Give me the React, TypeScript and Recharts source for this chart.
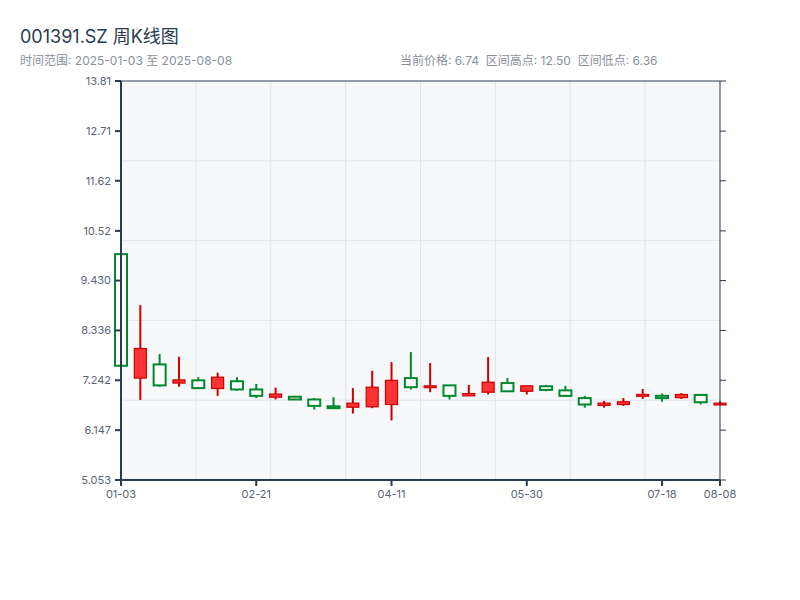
import React from "react";
import {
  ComposedChart,
  Bar,
  XAxis,
  YAxis,
  CartesianGrid,
} from "recharts";

const dates = [
  "01-03", "01-10", "01-17", "01-24", "01-31", "02-07", "02-14", "02-21",
  "02-28", "03-07", "03-14", "03-21", "03-28", "04-04", "04-11", "04-18",
  "04-25", "05-02", "05-09", "05-16", "05-23", "05-30", "06-06", "06-13",
  "06-20", "06-27", "07-04", "07-11", "07-18", "07-25", "08-01", "08-08",
];

const open = [
  10.01, 7.29, 7.59, 7.18, 7.24, 7.06, 7.22, 7.04, 6.87, 6.88, 6.82, 6.67,
  6.65, 6.66, 6.71, 7.29, 7.08, 7.13, 6.90, 6.98, 7.18, 7.00, 7.11, 7.02,
  6.85, 6.69, 6.71, 6.89, 6.90, 6.86, 6.92, 6.70,
];
const close = [
  7.56, 7.94, 7.13, 7.25, 7.07, 7.31, 7.04, 6.90, 6.94, 6.82, 6.68, 6.63,
  6.74, 7.09, 7.24, 7.09, 7.12, 6.90, 6.95, 7.20, 7.00, 7.12, 7.03, 6.90,
  6.71, 6.74, 6.77, 6.93, 6.85, 6.93, 6.76, 6.74,
];
const high = [
  10.01, 8.89, 7.82, 7.76, 7.31, 7.41, 7.31, 7.16, 7.08, 6.90, 6.85, 6.87,
  7.07, 7.45, 7.64, 7.86, 7.62, 7.13, 7.14, 7.75, 7.29, 7.12, 7.14, 7.12,
  6.90, 6.79, 6.85, 7.05, 6.95, 6.96, 6.92, 6.78,
];
const low = [
  7.56, 6.81, 7.10, 7.10, 7.07, 6.90, 7.01, 6.85, 6.82, 6.82, 6.60, 6.62,
  6.51, 6.63, 6.36, 7.04, 6.98, 6.82, 6.90, 6.93, 7.00, 6.93, 7.00, 6.88,
  6.64, 6.64, 6.68, 6.83, 6.77, 6.83, 6.71, 6.69,
];

const yTicks = [5.053, 6.147, 7.242, 8.336, 9.43, 10.52, 11.62, 12.71, 13.81];
const yTickLabels = ["5.053", "6.147", "7.242", "8.336", "9.430", "10.52", "11.62", "12.71", "13.81"];
const xTickIdx = [0, 7, 14, 21, 28, 31];

const data = dates.map((d, i) => ({
  idx: i,
  date: d,
  open: open[i],
  close: close[i],
  high: high[i],
  low: low[i],
  range: [low[i], high[i]],
}));

const UP_FILL = "#ff3333";
const UP_LINE = "#cc0000";
const DOWN_LINE = "#00882f";
const AXIS = "#2b3a4e";
const FONT = 'Inter, "Noto Sans CJK SC", sans-serif';
const Y_DOMAIN = [5.053, 13.81];

// candle body + wick drawn from the [low, high] bar recharts hands us
const Candle = (props: any) => {
  const { x, y, width, height, payload } = props;
  if (x == null || y == null) return null;
  const top = Math.min(y, y + height);
  const bot = Math.max(y, y + height);
  const span = payload.high - payload.low;
  const py = (v: number) =>
    span === 0 ? top : top + ((payload.high - v) / span) * (bot - top);
  const cx = x + width / 2;
  const up = payload.close >= payload.open;
  const line = up ? UP_LINE : DOWN_LINE;
  const bTop = py(Math.max(payload.open, payload.close));
  const bBot = py(Math.min(payload.open, payload.close));
  return (
    <g>
      <line x1={cx} x2={cx} y1={top} y2={bot} stroke={line} strokeWidth={2} />
      <rect
        x={cx - 6}
        y={bTop}
        width={12}
        height={Math.max(bBot - bTop, 1.5)}
        fill={up ? UP_FILL : "#ffffff"}
        stroke={line}
        strokeWidth={up ? 1.2 : 2}
      />
    </g>
  );
};

export default function App() {
  return (
    <div style={{ position: "absolute", left: 0, top: 0, width: 800, height: 600, background: "#fff", fontFamily: FONT }}>
      <div style={{ position: "absolute", left: 20, top: 22, fontSize: 18, color: "#2b3a4e" }}>
        001391.SZ 周K线图
      </div>
      <div style={{ position: "absolute", left: 20, top: 51, fontSize: 12, color: "#8a9099" }}>
        时间范围: 2025-01-03 至 2025-08-08
      </div>
      <div style={{ position: "absolute", left: 400, top: 51, fontSize: 12, color: "#8a9099" }}>
        当前价格: 6.74&nbsp;&nbsp;区间高点: 12.50&nbsp;&nbsp;区间低点: 6.36
      </div>
      <ComposedChart
        width={800}
        height={600}
        data={data}
        margin={{ top: 80, right: 60, bottom: 90, left: 0 }}
      >
        <CartesianGrid
          fill="#f7f8fa"
          stroke="#e2e5ea"
          horizontalCoordinatesGenerator={({ offset }: any) =>
            [1, 2, 3, 4].map((i) => offset.top + (offset.height * i) / 5)
          }
          verticalCoordinatesGenerator={({ offset }: any) =>
            [1, 2, 3, 4, 5, 6, 7].map((i) => offset.left + (offset.width * i) / 8)
          }
        />
        <XAxis
          dataKey="idx"
          type="number"
          domain={[0, 31]}
          ticks={xTickIdx}
          tickFormatter={(v: number) => dates[v]}
          height={30}
          tickSize={6}
          tickMargin={4}
          stroke={AXIS}
          strokeWidth={2}
          tick={{ fill: "#5c6573", fontSize: 11, fontFamily: FONT }}
        />
        <XAxis
          xAxisId="top"
          orientation="top"
          dataKey="idx"
          type="number"
          domain={[0, 31]}
          height={1}
          tick={false}
          tickLine={false}
          stroke={AXIS}
          strokeWidth={1}
        />
        <YAxis
          yAxisId="left"
          type="number"
          domain={Y_DOMAIN}
          ticks={yTicks}
          tickFormatter={(_v: number, i: number) => yTickLabels[i]}
          width={121}
          tickSize={6}
          tickMargin={4}
          stroke={AXIS}
          strokeWidth={2}
          tick={{ fill: "#5c6573", fontSize: 11, fontFamily: FONT }}
        />
        <YAxis
          yAxisId="right"
          orientation="right"
          type="number"
          domain={Y_DOMAIN}
          ticks={yTicks}
          width={20}
          tickSize={6}
          stroke={AXIS}
          strokeWidth={1}
          tickFormatter={() => ""}
        />
        {/* hidden series so the frame axes (top / right) get their scales */}
        <Bar
          xAxisId="top"
          yAxisId="right"
          dataKey="range"
          barSize={13.32}
          shape={() => <g />}
          isAnimationActive={false}
        />
        <Bar
          yAxisId="left"
          dataKey="range"
          barSize={13.32}
          shape={<Candle />}
          isAnimationActive={false}
        />
      </ComposedChart>
    </div>
  );
}
